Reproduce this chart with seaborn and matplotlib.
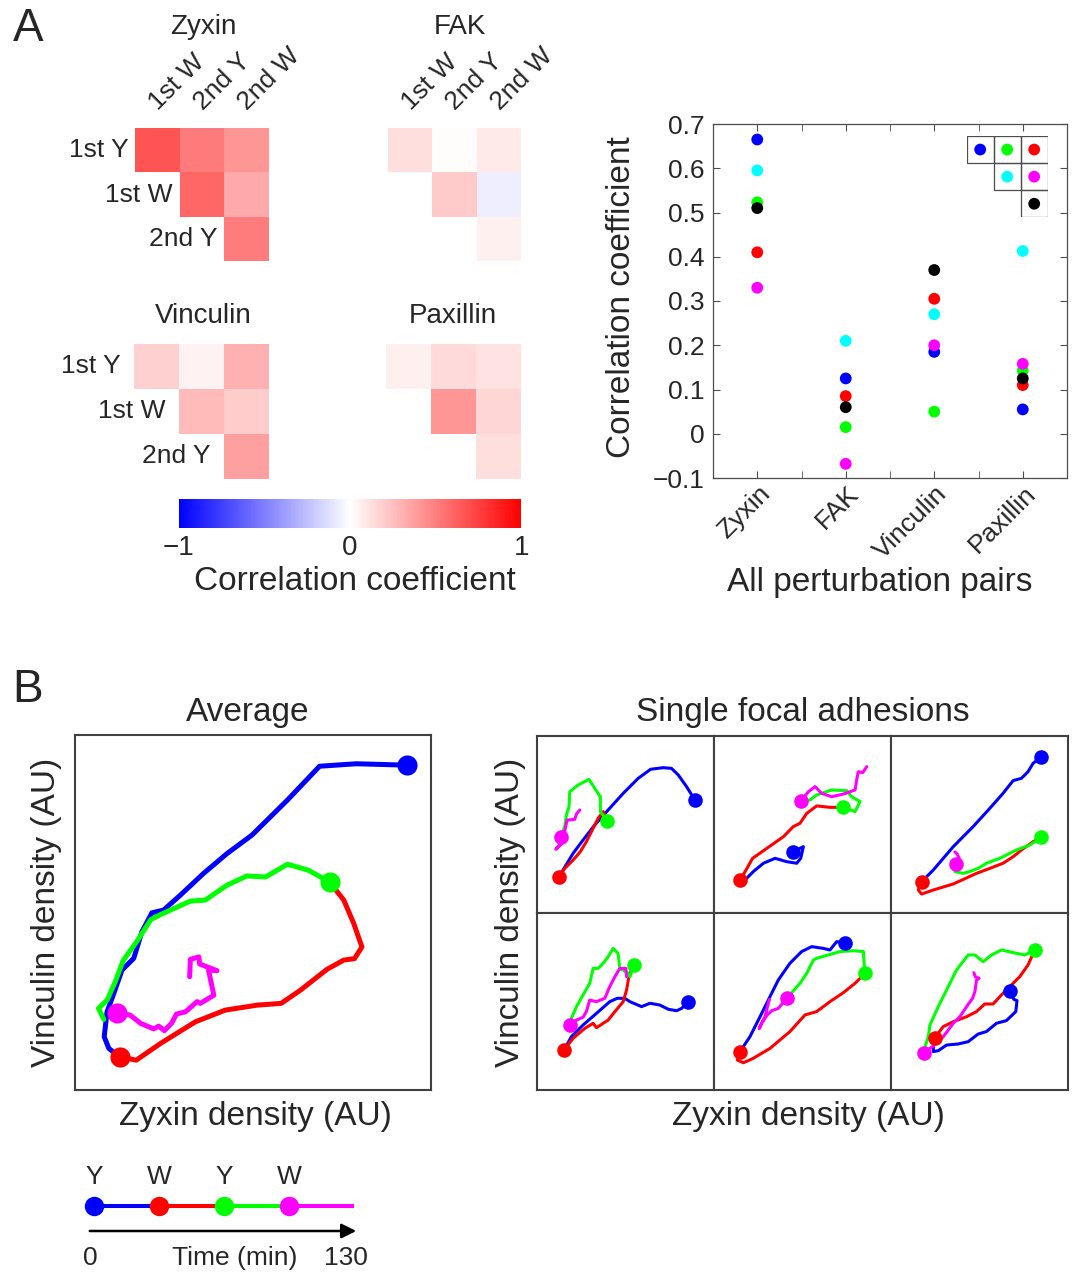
import matplotlib as mpl
import matplotlib.pyplot as plt
import matplotlib.transforms as mtransforms
from matplotlib.patches import Rectangle
import numpy as np
import pandas as pd
import seaborn as sns

# ---- data -----------------------------------------------------------------
proteins = ['Zyxin', 'FAK', 'Vinculin', 'Paxillin']
row_names = ['1st Y', '1st W', '2nd Y']
col_names = ['1st W', '2nd Y', '2nd W']
# perturbation pairs, in the order of the little legend triangle
pair_names = ['1stY-1stW', '1stY-2ndY', '1stY-2ndW', '1stW-2ndY', '1stW-2ndW', '2ndY-2ndW']
pair_cells = [(0, 0), (0, 1), (0, 2), (1, 1), (1, 2), (2, 2)]
pair_colors = ['#0000ff', '#00ff00', '#ff0000', '#00ffff', '#ff00ff', '#000000']

zyxin_r = [0.665, 0.523, 0.41, 0.595, 0.33, 0.51]
fak_r = [0.125, 0.015, 0.085, 0.21, -0.068, 0.06]
vinculin_r = [0.185, 0.05, 0.305, 0.27, 0.2, 0.37]
paxillin_r = [0.055, 0.143, 0.11, 0.413, 0.158, 0.125]

yticks = [-0.1, 0, 0.1, 0.2, 0.3, 0.4, 0.5, 0.6, 0.7]
ytick_labels = ['\u22120.1', '0', '0.1', '0.2', '0.3', '0.4', '0.5', '0.6', '0.7']

# trajectories (zyxin, vinculin) in arbitrary units, 0-100
avg_blue = [(93.3, 91.5), (79.0, 91.9), (68.7, 91.2), (59.6, 81.6), (49.7, 71.8), (42.7, 66.6), (36.1, 61.0),
            (29.6, 54.9), (24.9, 50.7), (21.6, 49.9), (18.8, 44.6), (16.5, 37.1), (13.2, 33.8), (10.9, 27.2),
            (9.0, 22.0), (8.2, 15.0), (9.5, 11.7), (12.5, 9.4)]
avg_red = [(12.5, 9.4), (17.2, 8.4), (24.0, 13.1), (33.8, 19.2), (42.2, 22.5), (51.1, 23.9), (57.9, 24.4),
           (63.3, 28.1), (70.8, 34.0), (75.5, 36.6), (78.5, 37.0), (80.6, 40.3), (78.3, 46.9), (75.5, 53.5),
           (71.5, 58.6)]
avg_green = [(71.5, 58.6), (65.6, 61.9), (59.7, 63.6), (53.5, 60.0), (48.3, 60.3), (42.7, 57.7), (36.6, 53.5),
             (32.4, 53.2), (28.2, 51.3), (24.0, 49.4), (21.3, 48.0), (17.6, 42.2), (13.5, 36.4), (11.3, 30.5),
             (9.0, 25.3), (6.6, 23.0), (8.1, 19.9)]
avg_magenta = [(11.8, 21.8), (15.5, 21.1), (18.4, 18.8), (22.1, 17.2), (23.5, 18.0), (25.1, 16.7), (27.2, 18.9),
               (28.5, 21.4), (31.0, 22.0), (34.3, 24.9), (35.2, 24.4), (39.0, 26.7), (37.5, 33.8), (39.9, 33.6),
               (35.0, 35.5), (34.8, 37.5), (32.4, 36.8), (32.2, 31.9)]

fa1_blue = [(89.2, 63.8), (84.5, 71.4), (79.8, 78.0), (76.0, 81.7), (71.3, 82.1), (64.2, 81.2), (57.2, 76.1),
            (48.7, 67.6), (40.2, 58.2), (32.6, 49.7), (26.0, 41.2), (20.4, 33.7), (14.7, 24.3), (12.5, 20.5)]
fa1_red = [(12.5, 20.5), (15.7, 25.2), (20.4, 29.9), (24.5, 34.7), (27.9, 40.3), (31.7, 47.8), (34.5, 53.5),
           (37.4, 57.3), (39.6, 52.2)]
fa1_green = [(39.6, 52.2), (35.8, 57.3), (35.8, 65.7), (33.2, 69.5), (29.4, 75.5), (23.2, 72.3), (18.5, 68.5),
             (18.1, 60.1), (16.6, 55.4), (15.7, 48.8), (13.4, 43.1)]
fa1_magenta = [(13.4, 43.1), (13.4, 39.0), (10.6, 36.0), (14.3, 39.4), (16.2, 48.8), (17.0, 52.5), (21.3, 52.9),
               (22.3, 55.9), (24.2, 58.2)]

fa2_blue = [(44.8, 34.7), (50.5, 37.5), (49.0, 30.9), (46.7, 28.1), (41.1, 29.0), (34.5, 30.9), (27.9, 28.1),
            (22.2, 23.4), (18.5, 19.6), (14.7, 18.6)]
fa2_red = [(14.7, 18.6), (18.1, 24.3), (21.8, 30.9), (29.8, 36.5), (39.2, 43.1), (44.8, 48.8), (48.6, 50.7),
           (52.4, 56.3), (58.0, 60.5), (65.5, 59.7), (73.1, 59.7)]
fa2_green = [(73.1, 59.7), (79.7, 57.3), (82.5, 62.9), (77.8, 65.7), (75.0, 69.1), (66.5, 69.5), (58.0, 66.7),
             (54.2, 63.8), (49.0, 63.3)]
fa2_magenta = [(49.0, 63.3), (53.3, 68.5), (57.1, 71.4), (60.8, 67.6), (66.5, 65.7), (73.1, 67.2), (79.7, 69.5),
               (80.6, 75.1), (81.5, 79.8), (84.0, 79.3), (86.3, 82.7)]

fa3_blue = [(85.0, 88.3), (80.3, 84.6), (77.4, 79.8), (73.7, 76.1), (69.0, 74.8), (63.3, 67.6), (55.8, 59.1),
            (46.4, 48.8), (35.2, 37.5), (23.9, 24.3), (17.3, 17.7)]
fa3_red = [(17.3, 17.7), (15.4, 13.0), (17.3, 10.7), (23.9, 13.0), (35.2, 16.4), (48.3, 22.4), (55.8, 25.2),
           (63.3, 28.1), (69.0, 31.8), (73.7, 35.6), (80.3, 40.3), (85.0, 42.7)]
fa3_green = [(85.0, 42.7), (78.4, 38.4), (70.9, 35.6), (61.5, 30.9), (53.9, 28.1), (49.2, 25.2), (44.5, 23.4),
             (40.8, 22.4), (36.1, 23.4), (36.7, 27.7)]
fa3_magenta = [(36.7, 27.7), (38.5, 30.9), (37.4, 33.3), (36.1, 34.5)]

fa4_blue = [(85.5, 49.9), (81.7, 46.1), (78.9, 44.8), (74.2, 45.6), (69.4, 48.0), (63.8, 49.0), (59.1, 47.1),
            (52.5, 49.9), (49.6, 51.8), (45.3, 51.8), (41.1, 49.9), (33.6, 43.3), (26.0, 36.7), (19.4, 30.1),
            (15.3, 22.6)]
fa4_red = [(15.3, 22.6), (20.4, 29.2), (27.0, 34.8), (31.7, 37.7), (33.6, 35.2), (40.2, 39.5), (44.0, 44.3),
           (48.7, 49.9), (50.6, 56.5), (52.1, 65.0), (54.9, 70.6)]
fa4_green = [(54.9, 70.6), (52.5, 64.0), (51.1, 66.3), (46.8, 68.7), (45.8, 77.2), (43.0, 80.0), (40.2, 75.3),
             (37.4, 71.6), (34.5, 68.7), (31.7, 68.7), (29.8, 60.3), (26.0, 53.7), (22.3, 47.1), (19.4, 40.5),
             (18.5, 36.7)]
fa4_magenta = [(18.5, 36.7), (22.3, 39.5), (26.0, 41.1), (27.9, 44.3), (29.8, 50.8), (33.6, 49.9), (38.3, 51.8),
               (41.1, 58.4), (42.1, 60.3), (44.0, 64.0), (46.8, 68.7), (50.2, 68.7), (50.6, 64.0)]

fa5_blue = [(74.0, 83.2), (69.3, 83.8), (65.5, 79.1), (61.8, 80.0), (55.2, 81.0), (49.5, 78.2), (42.9, 71.6),
            (36.3, 62.1), (31.6, 52.7), (26.0, 41.4), (20.3, 30.1), (14.7, 21.7)]
fa5_red = [(14.7, 21.7), (13.2, 16.9), (16.6, 15.4), (22.2, 17.9), (31.6, 23.5), (42.9, 33.0), (51.4, 42.4),
           (58.0, 44.3), (65.5, 49.9), (73.1, 55.0), (79.7, 60.3), (85.3, 65.9)]
fa5_green = [(85.3, 65.9), (84.7, 73.4), (84.4, 78.2), (78.7, 78.7), (71.2, 78.2), (64.6, 76.3), (58.0, 74.4),
             (56.1, 73.4), (52.4, 65.9), (48.6, 60.3), (41.1, 51.8)]
fa5_magenta = [(41.1, 51.8), (36.3, 46.1), (32.6, 44.8), (30.1, 42.4), (28.8, 40.5), (26.9, 37.7), (25.6, 34.8),
               (26.9, 37.7), (28.8, 41.4), (31.3, 51.2)]

fa6_blue = [(67.1, 55.9), (69.4, 51.2), (71.2, 50.5), (70.5, 44.3), (65.2, 39.2), (59.6, 37.7), (53.9, 33.0),
            (49.2, 31.6), (43.6, 27.3), (38.0, 26.0), (31.4, 25.4), (26.7, 22.2), (23.9, 21.7), (23.9, 25.4),
            (24.8, 29.6)]
fa6_red = [(24.8, 29.6), (29.5, 35.8), (35.2, 38.6), (42.7, 41.4), (48.3, 44.3), (53.0, 48.6), (57.7, 48.6),
           (62.4, 53.7), (67.1, 58.4), (72.7, 64.0), (77.4, 70.6), (81.2, 79.1)]
fa6_green = [(81.2, 79.1), (75.6, 76.3), (70.9, 77.2), (62.4, 79.1), (56.8, 76.3), (52.1, 72.5), (47.4, 76.3),
             (43.6, 76.3), (37.0, 67.8), (31.4, 56.5), (26.7, 47.1), (22.0, 36.7), (21.1, 30.1), (19.2, 24.5),
             (18.6, 21.1)]
fa6_magenta = [(18.6, 21.1), (23.9, 24.9), (29.5, 30.1), (35.2, 37.7), (38.9, 41.4), (42.7, 47.1), (46.1, 51.8),
               (47.4, 55.6), (48.3, 62.1), (49.8, 63.1), (47.6, 64.0), (46.8, 66.3)]

phase_labels = ['Y', 'W', 'Y', 'W']
phase_colors = ['#0000ff', '#ff0000', '#00ff00', '#ff00ff']
phase_times = [0, 32.5, 65, 97.5, 130]  # min

# ---- figure ---------------------------------------------------------------
sns.set_style('white')
plt.rcParams['font.family'] = ['Liberation Sans', 'DejaVu Sans']

W, H = 1073, 1272
fig = plt.figure(figsize=(W / 100, H / 100), dpi=100)


def px_rect(x0, y0, x1, y1):
    return [x0 / W, 1 - y1 / H, (x1 - x0) / W, (y1 - y0) / H]


def ftext(x, y, s, **kw):
    kw.setdefault('ha', 'center')
    kw.setdefault('va', 'center')
    return fig.text(x / W, 1 - y / H, s, **kw)


ftext(28, 29, 'A', fontsize=33)
ftext(28, 690, 'B', fontsize=33)


# ---- A: heatmaps -----------------------------------------------------------
def draw_heatmap(rect, values, title, title_xy, row_off=None, col_labels=False):
    mat = np.full((3, 3), np.nan)
    for (r, c), v in zip(pair_cells, values):
        mat[r, c] = v
    df = pd.DataFrame(mat, index=row_names, columns=col_names)
    ax = fig.add_axes(px_rect(*rect))
    sns.heatmap(df, mask=np.isnan(mat), cmap='bwr', vmin=-1, vmax=1, cbar=False,
                xticklabels=False, yticklabels=False, ax=ax)
    ftext(*title_xy, title, fontsize=20)
    if row_off is not None:
        for i, name in enumerate(row_names):
            ax.text(i - row_off, i + 0.5, name, ha='right', va='center', fontsize=19)
    if col_labels:
        for i, name in enumerate(col_names):
            ax.text(i + 0.6, -0.3, name, ha='left', va='bottom', rotation=45,
                    rotation_mode='anchor', fontsize=19)
    return ax


draw_heatmap((135, 128, 268.6, 261), zyxin_r, 'Zyxin', (203, 27), row_off=0.15, col_labels=True)
draw_heatmap((387.5, 128, 521, 261), fak_r, 'FAK', (460, 27), col_labels=True)
draw_heatmap((134, 344, 268.6, 478.7), vinculin_r, 'Vinculin', (203, 316), row_off=0.3)
draw_heatmap((386, 344, 521, 478.7), paxillin_r, 'Paxillin', (453, 316))

cax = fig.add_axes(px_rect(178.6, 499.3, 521.4, 528.3))
sm = mpl.cm.ScalarMappable(norm=mpl.colors.Normalize(-1, 1), cmap='bwr')
cb = fig.colorbar(sm, cax=cax, orientation='horizontal', ticks=[-1, 0, 1])
cb.outline.set_visible(False)
cax.tick_params(length=0, labelsize=20, pad=5)
ftext(355, 582, 'Correlation coefficient', fontsize=24)

# ---- A: scatter of correlation per protein ---------------------------------
rows = []
for pname, pvals in zip(proteins, [zyxin_r, fak_r, vinculin_r, paxillin_r]):
    for pair, v in zip(pair_names, pvals):
        rows.append({'protein': pname, 'pair': pair, 'r': v})
corr = pd.DataFrame(rows)

ax = fig.add_axes(px_rect(713, 124, 1067, 478))
sns.stripplot(data=corr, x='protein', y='r', hue='pair', order=proteins, hue_order=pair_names,
              palette=dict(zip(pair_names, pair_colors)), jitter=False, dodge=False,
              size=8.5, linewidth=0, legend=False, ax=ax)
ax.set_xlim(-0.5, 3.5)
ax.set_ylim(-0.1, 0.7)
ax.set_yticks(yticks)
ax.set_yticklabels(ytick_labels, fontsize=19)
ax.set_xticks(range(len(proteins)))
ax.set_xticklabels([])
ax.set_xticks([0.5, 1.5, 2.5], minor=True)
ax.tick_params(axis='x', which='both', direction='in', length=5, top=True, bottom=True, color='0.3')
ax.tick_params(axis='y', direction='in', length=5, left=True, right=True, pad=6, color='0.3')
lab_tr = (mtransforms.blended_transform_factory(ax.transData, ax.transAxes)
          + mtransforms.ScaledTranslation(9 / 100, -12 / 100, fig.dpi_scale_trans))
for i, name in enumerate(proteins):
    ax.text(i, 0, name, transform=lab_tr, rotation=45, ha='right', va='center',
            rotation_mode='anchor', fontsize=19)
ax.set_xlabel('')
ax.set_ylabel('')
for sp in ax.spines.values():
    sp.set_color('0.3')
    sp.set_linewidth(0.9)
ftext(622, 297, 'Correlation coefficient', fontsize=24, rotation=90)
ftext(880, 583, 'All perturbation pairs', fontsize=24)

# legend triangle
lax = fig.add_axes(px_rect(966.7, 136, 1047.7, 217.3))
lax.set_xlim(0, 3)
lax.set_ylim(3, 0)
lax.axis('off')
for (r, c), col in zip(pair_cells, pair_colors):
    lax.add_patch(Rectangle((c, r), 1, 1, fill=False, ec='0.3', lw=0.9))
sns.scatterplot(x=[c + 0.5 for r, c in pair_cells], y=[r + 0.5 for r, c in pair_cells],
                hue=pair_names, palette=dict(zip(pair_names, pair_colors)), s=72,
                linewidth=0, legend=False, ax=lax)


# ---- B: trajectories -------------------------------------------------------
def draw_traj(ax, segments, lw, ms):
    for seg, col in zip(segments, phase_colors):
        xy = np.array(seg)
        sns.lineplot(x=xy[:, 0], y=xy[:, 1], sort=False, estimator=None, color=col, lw=lw, ax=ax)
    for seg, col in zip(segments, phase_colors):
        ax.plot(seg[0][0], seg[0][1], 'o', color=col, ms=ms, mew=0)
    ax.set_xlim(0, 100)
    ax.set_ylim(0, 100)
    ax.set_xticks([])
    ax.set_yticks([])
    for sp in ax.spines.values():
        sp.set_color('0.25')
        sp.set_linewidth(1.5)


ax = fig.add_axes(px_rect(75, 735, 431, 1090))
draw_traj(ax, [avg_blue, avg_red, avg_green, avg_magenta], lw=3.6, ms=14.5)
ftext(248, 712, 'Average', fontsize=24)
ftext(255, 1117, 'Zyxin density (AU)', fontsize=24)
ftext(47, 912, 'Vinculin density (AU)', fontsize=24, rotation=90)

fa_panels = [[fa1_blue, fa1_red, fa1_green, fa1_magenta],
             [fa2_blue, fa2_red, fa2_green, fa2_magenta],
             [fa3_blue, fa3_red, fa3_green, fa3_magenta],
             [fa4_blue, fa4_red, fa4_green, fa4_magenta],
             [fa5_blue, fa5_red, fa5_green, fa5_magenta],
             [fa6_blue, fa6_red, fa6_green, fa6_magenta]]
gx0, gy0, cw, ch = 537, 736, 177, 177
for k, segs in enumerate(fa_panels):
    r, c = divmod(k, 3)
    ax = fig.add_axes(px_rect(gx0 + c * cw, gy0 + r * ch, gx0 + (c + 1) * cw, gy0 + (r + 1) * ch))
    draw_traj(ax, segs, lw=2.2, ms=10.5)
ftext(803, 712, 'Single focal adhesions', fontsize=24)
ftext(808, 1117, 'Zyxin density (AU)', fontsize=24)
ftext(510, 912, 'Vinculin density (AU)', fontsize=24, rotation=90)

# ---- B: time legend --------------------------------------------------------
px_per_min = 2.0
tax = fig.add_axes(px_rect(75, 1150, 385, 1272))
tax.set_xlim((75 - 94) / px_per_min, (385 - 94) / px_per_min)
tax.set_ylim(1272, 1150)
tax.axis('off')
for i, col in enumerate(phase_colors):
    tax.plot(phase_times[i:i + 2], [1206, 1206], color=col, lw=2.9, solid_capstyle='butt')
for i, col in enumerate(phase_colors):
    tax.plot(phase_times[i], 1206, 'o', color=col, ms=14, mew=0)
    tax.text(phase_times[i], 1177, phase_labels[i], ha='center', va='center', fontsize=19)
tax.annotate('', xy=(132.5, 1231), xytext=(-3.5, 1231),
             arrowprops=dict(arrowstyle='-|>', color='black', lw=1.8, mutation_scale=22))
tax.text(-1.7, 1258, '0', ha='center', va='center', fontsize=19)
tax.text(70.5, 1258, 'Time (min)', ha='center', va='center', fontsize=19)
tax.text(126.2, 1258, '130', ha='center', va='center', fontsize=19)

fig.savefig('out.png', dpi=100)
